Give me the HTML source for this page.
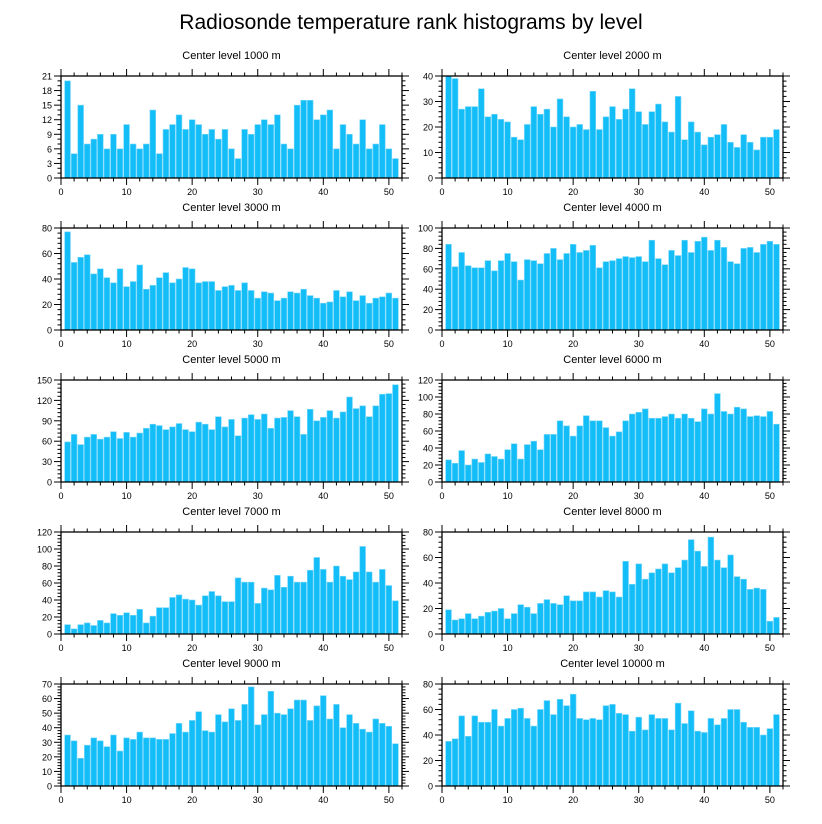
<!DOCTYPE html>
<html><head><meta charset="utf-8">
<style>
body{margin:0;background:#fff;}
svg{display:block;font-family:"Liberation Sans",sans-serif;}
</style></head>
<body>
<svg id="chart" width="822" height="824" viewBox="0 0 822 824">
<text x="411" y="29" text-anchor="middle" font-size="21">Radiosonde temperature rank histograms by level</text>
</svg>
<script>
const levels = ["1000","2000","3000","4000","5000","6000","7000","8000","9000","10000"];
const yMaxes = [21,40,80,100,150,120,120,80,70,80];
const yMajorSteps = [3,10,20,20,30,20,20,20,10,20];
const xTickLabels = [0,10,20,30,40,50];
const counts1000 = [20,5,15,7,8,9,6,9,6,11,7,6,7,14,5,10,11,13,10,12,11,9,10,8,10,6,4,10,9,11,12,11,13,7,6,15,16,16,12,13,14,6,11,9,7,12,6,7,11,6,4];
const counts2000 = [40,39,27,28,28,35,24,25,23,22,16,15,21,28,25,27,20,31,24,20,21,19,34,19,24,28,23,27,35,26,21,26,29,22,18,32,15,22,18,13,16,17,21,14,12,17,14,11,16,16,19];
const counts3000 = [77,53,57,59,44,48,41,37,48,34,38,51,32,35,41,45,37,40,49,48,37,38,38,31,34,35,31,37,31,25,30,29,23,25,30,29,32,27,25,21,22,31,26,30,23,27,21,25,26,29,25];
const counts4000 = [84,62,76,63,61,61,68,58,68,75,67,49,69,68,65,75,80,69,75,84,76,78,83,61,67,68,70,72,71,72,67,88,70,64,78,73,88,76,87,91,78,88,81,67,65,80,81,76,84,87,84];
const counts5000 = [59,70,55,66,70,63,66,74,64,73,66,72,79,85,83,77,81,86,77,74,88,85,77,96,81,92,68,94,99,92,100,79,94,95,105,96,70,107,90,95,105,94,103,125,108,112,96,112,129,130,143];
const counts6000 = [26,22,37,20,27,23,33,30,27,38,45,27,44,48,38,56,56,72,66,54,66,78,72,72,64,54,59,72,80,82,86,75,75,77,80,75,80,75,71,86,80,104,83,80,88,86,77,78,77,83,68];
const counts7000 = [11,6,11,13,10,16,13,24,22,25,22,29,13,21,31,31,43,46,41,40,34,45,50,45,38,38,66,61,61,36,54,52,69,55,68,61,61,75,90,76,61,80,68,64,73,103,73,61,76,57,39];
const counts8000 = [19,11,12,16,12,14,17,18,20,12,16,23,21,16,24,27,24,23,30,26,26,33,33,29,34,33,29,57,39,55,43,48,51,55,48,52,58,74,65,53,76,58,52,62,45,43,35,36,35,10,13];
const counts9000 = [35,31,19,28,33,31,27,35,24,33,32,37,33,33,32,32,36,43,37,45,51,38,37,49,44,53,45,56,68,42,49,65,50,49,53,59,59,45,55,62,46,56,40,49,43,39,37,46,43,41,29];
const counts10000 = [35,37,55,39,55,50,50,60,47,53,60,61,53,47,60,67,56,68,63,72,53,52,53,52,63,64,57,56,43,54,44,56,53,53,44,65,49,59,43,42,53,48,53,60,60,50,46,46,40,45,56];
const allCounts = [counts1000,counts2000,counts3000,counts4000,counts5000,counts6000,counts7000,counts8000,counts9000,counts10000];

const NS = "http://www.w3.org/2000/svg";
const svg = document.getElementById('chart');
function mk(tag, attrs, parent){
  const e = document.createElementNS(NS, tag);
  for (const k in attrs) e.setAttribute(k, attrs[k]);
  parent.appendChild(e);
  return e;
}
const panelW = 341, panelH = 102, xMax = 52;
const lefts = [61, 442];
const tops = [76, 228, 380, 532, 684];

allCounts.forEach((vals, i) => {
  const px = lefts[i % 2], py = tops[Math.floor(i / 2)];
  const yMax = yMaxes[i], step = yMajorSteps[i];
  const xS = v => px + v / xMax * panelW;
  const yS = v => py + panelH - v / yMax * panelH;
  const g = mk('g', {}, svg);
  
  
  const t = mk('text', {x: px + panelW / 2, y: py - 17, 'text-anchor': 'middle', 'font-size': 11}, g);
  t.textContent = 'Center level ' + levels[i] + ' m';
  
  
  // bars
  vals.forEach((v, j) => {
    const x = j + 1;
    const r = mk('rect', {x: xS(x - 0.44), y: yS(v), width: xS(x + 0.44) - xS(x - 0.44), height: yS(0) - yS(v), fill: '#13bdf7', stroke: '#7ad8fb', 'stroke-width': 0.6}, g);
    
    
  });
  // frame
  const f = mk('rect', {x: px, y: py, width: panelW, height: panelH, fill: 'none', stroke: '#000', 'stroke-width': 1.3}, g);
  
  
  // x ticks
  for (let v = 0; v <= xMax; v += 2) {
    const major = v % 10 === 0, L = major ? 7 : 3.5, x = xS(v);
    mk('line', {x1: x, x2: x, y1: py + panelH, y2: py + panelH + L, stroke: '#000', 'stroke-width': 1}, g);
    mk('line', {x1: x, x2: x, y1: py, y2: py - L, stroke: '#000', 'stroke-width': 1}, g);
  }
  xTickLabels.forEach(v => {
    const tl = mk('text', {x: xS(v), y: py + panelH + 17, 'text-anchor': 'middle', 'font-size': 9}, g);
    tl.textContent = v;
    
    
  });
  // y ticks
  const minor = step === 3 ? 1 : step / 5;
  for (let k = 0; k * minor <= yMax + 1e-9; k++) {
    const v = k * minor, y = yS(v);
    const major = Math.abs(v / step - Math.round(v / step)) < 1e-6, L = major ? 7 : 3.5;
    mk('line', {x1: px, x2: px - L, y1: y, y2: y, stroke: '#000', 'stroke-width': 1}, g);
    mk('line', {x1: px + panelW, x2: px + panelW + L, y1: y, y2: y, stroke: '#000', 'stroke-width': 1}, g);
  }
  for (let v = 0; v <= yMax; v += step) {
    const yl = mk('text', {x: px - 9, y: yS(v) + 3.5, 'text-anchor': 'end', 'font-size': 9}, g);
    yl.textContent = v;
    
    
  }
});
</script>
</body></html>
